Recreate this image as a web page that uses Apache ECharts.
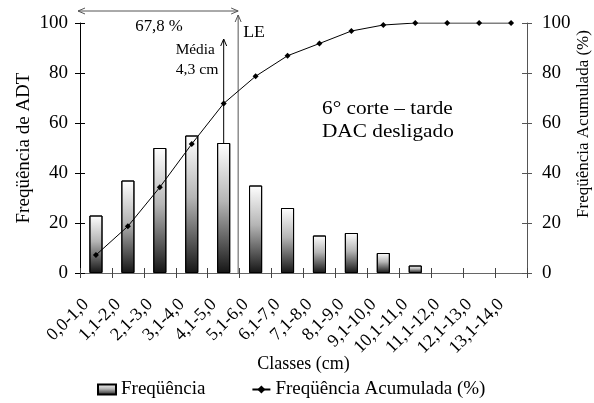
<!DOCTYPE html>
<html><head><meta charset="utf-8">
<script src="https://cdn.jsdelivr.net/npm/echarts@6/dist/echarts.min.js"></script>
<style>html,body{margin:0;padding:0;background:#fff}#c{width:594px;height:403px}</style>
</head><body><div id="c"></div>
<script>
var categories = ['0,0-1,0','1,1-2,0','2,1-3,0','3,1-4,0','4,1-5,0','5,1-6,0','6,1-7,0','7,1-8,0','8,1-9,0','9,1-10,0','10,1-11,0','11,1-12,0','12,1-13,0','13,1-14,0'];
var frequencia = [23, 37, 50, 55, 52, 35, 26, 15, 16, 8, 3, 0, 0, 0];
var acumulada = [7.2, 18.7, 34.3, 51.6, 67.8, 78.7, 86.9, 91.8, 96.8, 99.2, 100, 100, 100, 100];
var yTicks = [0, 20, 40, 60, 80, 100];

var FONT = 'Liberation Serif';
var FS = 18;
var chart = echarts.init(document.getElementById('c'));
var barGrad = new echarts.graphic.LinearGradient(0, 0, 0, 1, [
  {offset: 0, color: '#ffffff'}, {offset: 0.45, color: '#b5b5b5'}, {offset: 1, color: '#151515'}
]);
function yAx(pos, inside, showLine, lineColor, name, margin) {
  return {
    type: 'value', position: pos, min: yTicks[0], max: yTicks[yTicks.length - 1], interval: 20,
    splitLine: {show: false},
    axisLine: {show: showLine, lineStyle: {color: lineColor, width: 1}},
    axisTick: {show: true, inside: inside, length: 5, lineStyle: {color: lineColor}},
    axisLabel: {show: !inside, color: '#000', fontFamily: FONT, fontSize: 19, margin: margin || 12},
    name: name || '', nameLocation: 'middle', nameGap: 46, nameMoveOverlap: false,
    nameTextStyle: {color: '#000', fontFamily: FONT, fontSize: 19}
  };
}
var barData = frequencia.map(function (v) {
  return v === 0 ? {value: v, itemStyle: {borderWidth: 0, opacity: 0}} : v;
});
var option = {
  animation: false,
  textStyle: {fontFamily: FONT},
  grid: {left: 80, right: 67, top: 23, bottom: 130, containLabel: false},
  legend: {
    left: 92, top: 375, itemGap: 46, itemWidth: 18, itemHeight: 10,
    textStyle: {color: '#000', fontFamily: FONT, fontSize: 19},
    data: [{name: 'Freqüência', icon: 'rect'}, {name: 'Freqüência Acumulada (%)'}]
  },
  xAxis: [{
    type: 'category', data: categories, position: 'bottom',
    axisLine: {lineStyle: {color: '#666'}},
    axisTick: {show: true, inside: false, length: 5, interval: 0, lineStyle: {color: '#444'}},
    axisLabel: {interval: 0, rotate: 45, color: '#000', fontFamily: FONT, fontSize: FS, margin: 19, padding: [0, 14, 0, 0]},
    name: 'Classes (cm)', nameLocation: 'middle', nameGap: 82, nameMoveOverlap: false,
    nameTextStyle: {color: '#000', fontFamily: FONT, fontSize: FS}
  }, {
    type: 'category', data: categories, position: 'bottom',
    axisLine: {show: false},
    axisTick: {show: true, inside: true, length: 5, interval: 0, lineStyle: {color: '#444'}},
    axisLabel: {show: false}
  }],
  yAxis: [
    yAx('left', false, true, '#000', 'Freqüência de ADT', 12),
    yAx('left', true, false, '#000'),
    yAx('right', false, true, '#555', '', 15),
    yAx('right', true, false, '#555')
  ],
  series: [{
    name: 'Freqüência', type: 'bar', xAxisIndex: 0, yAxisIndex: 0, data: barData,
    barWidth: '41%',
    itemStyle: {color: barGrad, borderColor: '#000', borderWidth: 1}
  }, {
    name: 'Freqüência Acumulada (%)', type: 'line', xAxisIndex: 0, yAxisIndex: 2, data: acumulada,
    symbol: 'diamond', symbolSize: 6, showSymbol: true,
    lineStyle: {color: '#000', width: 1}, itemStyle: {color: '#000'}
  }]
};
chart.setOption(option);

// annotations
var xMedia = chart.convertToPixel({xAxisIndex: 0}, categories[4]);
var pCat5 = chart.convertToPixel({xAxisIndex: 0}, categories[5]);
var bandW = pCat5 - xMedia;
var xLE = xMedia + bandW / 2 - 1.5;
var y0 = chart.convertToPixel({yAxisIndex: 0}, 0);
var y100 = chart.convertToPixel({yAxisIndex: 0}, 100);
var xLeft = chart.convertToPixel({xAxisIndex: 0}, categories[0]) - bandW / 2;
var topArrowY = y100 - 12;
function head(x, y, dir, color) {
  var pts = dir === 'up' ? [[x - 3, y + 7], [x, y], [x + 3, y + 7]]
    : dir === 'left' ? [[x + 7, y - 3], [x, y], [x + 7, y + 3]]
    : [[x - 7, y - 3], [x, y], [x - 7, y + 3]];
  return {type: 'polyline', shape: {points: pts}, style: {stroke: color, lineWidth: 1, fill: null}, silent: true};
}
function txt(x, y, t, size, align, sx, rot) {
  return {type: 'text', x: x, y: y, scaleX: sx || 1, rotation: rot || 0, silent: true,
    style: {text: t, fill: '#000', fontFamily: FONT, fontSize: size, align: align || 'left', verticalAlign: 'middle'}};
}
chart.setOption({graphic: [
  {type: 'line', shape: {x1: xLeft - 2, y1: topArrowY, x2: xLE, y2: topArrowY}, style: {stroke: '#555', lineWidth: 1}},
  head(xLeft - 2, topArrowY, 'left', '#555'), head(xLE, topArrowY, 'right', '#555'),
  {type: 'line', shape: {x1: xLE, y1: y0, x2: xLE, y2: y100 - 8}, style: {stroke: '#555', lineWidth: 1}},
  head(xLE, y100 - 8, 'up', '#555'),
  {type: 'line', shape: {x1: xMedia, y1: y0 - 5, x2: xMedia, y2: y100 + 16}, style: {stroke: '#000', lineWidth: 1}},
  head(xMedia, y100 + 16, 'up', '#000'),
  txt((xLeft + xLE) / 2, y100 + 4, '67,8 %', 16, 'center', 1.05),
  txt(xLE + 5, y100 + 10, 'LE', 17, 'left', 1.05),
  txt(xMedia - 48, y100 + 27, 'Média', 15, 'left', 1.02),
  txt(xMedia - 48, y100 + 47, '4,3 cm', 15, 'left', 1.05),
  txt(322, 109, '6° corte – tarde', 19, 'left', 1.12),
  txt(322, 132, 'DAC desligado', 19, 'left', 1.12),
  txt(584, 124, 'Freqüência Acumulada (%)', 17, 'center', 1, Math.PI / 2)
]});
</script></body></html>
